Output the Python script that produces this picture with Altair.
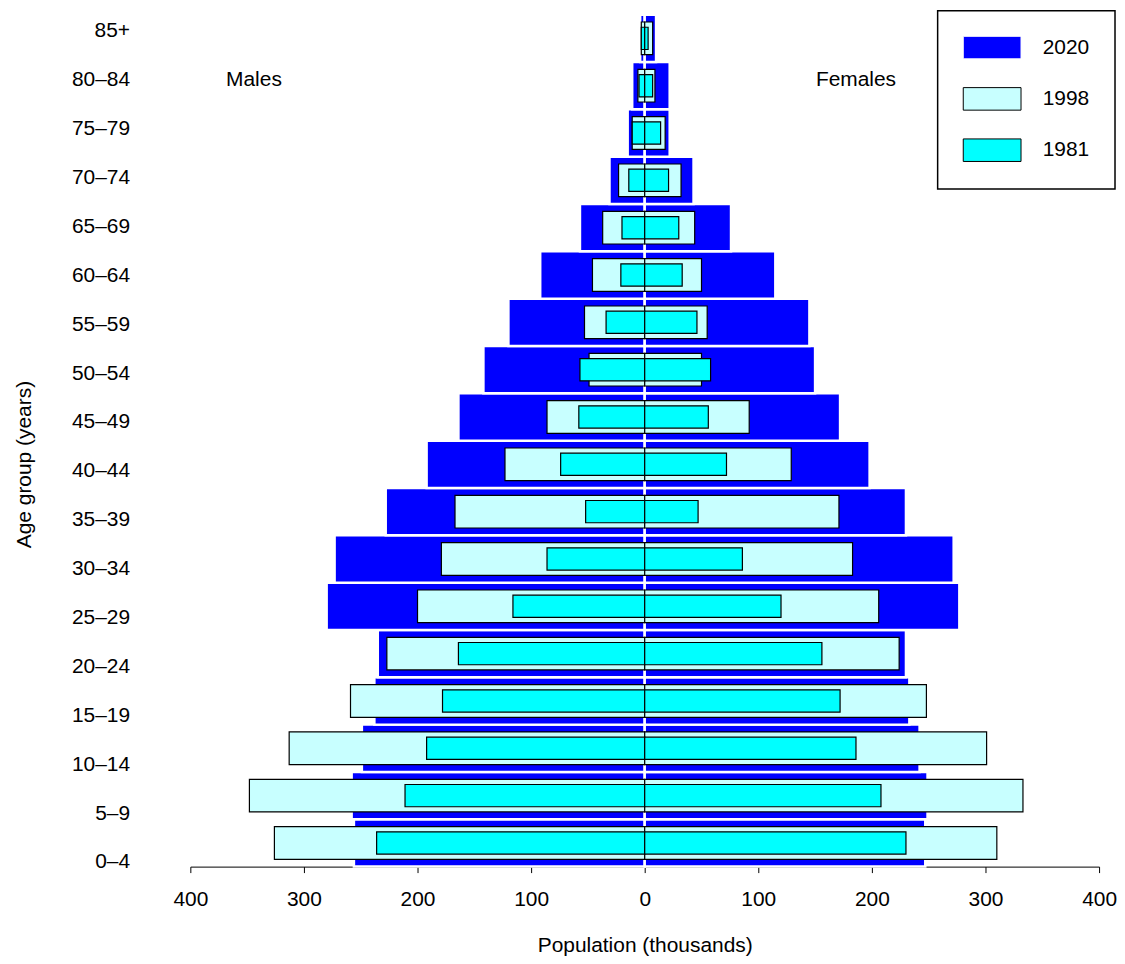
import altair as alt
import pandas as pd

# ---- data (thousands), age groups listed from youngest to oldest ----
ages = ["0–4", "5–9", "10–14", "15–19", "20–24", "25–29", "30–34", "35–39",
        "40–44", "45–49", "50–54", "55–59", "60–64", "65–69", "70–74",
        "75–79", "80–84", "85+"]

male_2020 = [256, 258, 249, 238, 235, 280, 273, 228, 192, 164, 142, 120, 92, 57, 31, 15, 11, 4]
female_2020 = [247, 249, 242, 233, 230, 277, 272, 230, 198, 172, 150, 145, 115, 76, 43, 22, 22, 10]
male_1998 = [326, 348, 313, 259, 227, 200, 179, 167, 123, 86, 49, 53, 46, 37, 23, 11, 6, 3]
female_1998 = [310, 333, 301, 248, 224, 206, 183, 171, 129, 92, 50, 55, 50, 44, 32, 18, 9, 7]
male_1981 = [236, 211, 192, 178, 164, 116, 86, 52, 74, 58, 57, 34, 21, 20, 14, 11, 5, 3]
female_1981 = [230, 208, 186, 172, 156, 120, 86, 47, 72, 56, 58, 46, 33, 30, 21, 14, 7, 3]

years = ["2020", "1998", "1981"]
year_colors = ["#0000FF", "#C8FFFF", "#00FFFF"]
year_strokes = ["#FFFFFF", "#000000", "#000000"]
x_ticks = [-400, -300, -200, -100, 0, 100, 200, 300, 400]
sex_labels = ["Males", "Females"]

series = {
    "2020": (male_2020, female_2020),
    "1998": (male_1998, female_1998),
    "1981": (male_1981, female_1981),
}
rows = []
for yr, (m, f) in series.items():
    for a, mv, fv in zip(ages, m, f):
        rows.append({"age": a, "year": yr, "sex": "Males", "value": -mv})
        rows.append({"age": a, "year": yr, "sex": "Females", "value": fv})
df = pd.DataFrame(rows)
age_df = pd.DataFrame({"age": ages})
sex_df = pd.DataFrame({"sex": sex_labels})

order_top = list(reversed(ages))
FONT = "Liberation Sans"
FS = 21
XTITLE = "Population (thousands)"

x_enc = alt.X(
    "value:Q",
    stack=None,
    title=XTITLE,
    scale=alt.Scale(domain=[-400, 400], nice=False),
    axis=alt.Axis(values=x_ticks, labelExpr="abs(datum.value)", grid=False,
                  domainColor="black", domainWidth=1, tickColor="black",
                  tickSize=6, tickWidth=1, labelFontSize=FS, labelPadding=16,
                  labelColor="black", titleFontSize=FS, titleFontWeight="normal",
                  titleColor="black", titlePadding=25, labelFlush=False),
)
y_band = alt.Y("age:N", scale=alt.Scale(domain=order_top, paddingInner=0, paddingOuter=0),
               axis=None)
fill_enc = alt.Fill("year:N", title=None,
                    scale=alt.Scale(domain=years, range=year_colors))
stroke_enc = alt.Stroke("year:N", title=None,
                        scale=alt.Scale(domain=years, range=year_strokes))


def bars(year, band, sw):
    return (
        alt.Chart(df)
        .transform_filter(alt.datum.year == year)
        .mark_bar(height={"band": band}, strokeWidth=sw, opacity=1)
        .encode(x=x_enc, y=y_band, fill=fill_enc, stroke=stroke_enc)
    )


bar_layer = alt.layer(bars("2020", 1.0, 2.5), bars("1998", 0.69, 1.2), bars("1981", 0.47, 1.2))

y_point = alt.Y(
    "age:N",
    scale=alt.Scale(type="point", domain=order_top, padding=0.214, align=0.776),
    axis=alt.Axis(orient="left", title="Age group (years)", domain=False, ticks=False,
                  tickSize=0, grid=False, labelFontSize=FS, labelPadding=61,
                  labelColor="black", titleFontSize=FS, titleFontWeight="normal",
                  titleColor="black", titleX=-166, titleY=451, titleBaseline="middle"),
)
label_pts = alt.Chart(age_df).mark_point(opacity=0).encode(
    x=alt.XDatum(0, type="quantitative", title=XTITLE), y=y_point
)


def sex_text(label, xpos):
    return (
        alt.Chart(sex_df)
        .transform_filter(alt.datum.sex == label)
        .mark_text(fontSize=FS, font=FONT, color="black", align="center", baseline="middle")
        .encode(
            x=alt.XDatum(xpos, type="quantitative", title=XTITLE),
            y=alt.YDatum("80–84", type="nominal"),
            text="sex:N",
        )
    )


label_layer = alt.layer(label_pts, sex_text("Males", -344), sex_text("Females", 186))

chart = (
    alt.layer(bar_layer, label_layer)
    .resolve_scale(y="independent")
    .resolve_axis(y="independent")
    .properties(width=912, height=855,
                padding={"left": 6, "top": 0, "right": 0, "bottom": 0})
    .configure(font=FONT)
    .configure_view(stroke=None)
    .configure_legend(
        orient="none", legendX=750, legendY=-4,
        strokeColor="black", strokeWidth=1.5, padding=25,
        rowPadding=23.5, labelFontSize=FS, labelColor="black", labelOffset=56.4,
        symbolType="M-1,-1H4.13V1H-1Z", symbolSize=511,
        symbolStrokeWidth=1, symbolOpacity=1, labelFont=FONT,
    )
)

chart.save("out.html", embed_options={"renderer": "svg", "actions": False})
